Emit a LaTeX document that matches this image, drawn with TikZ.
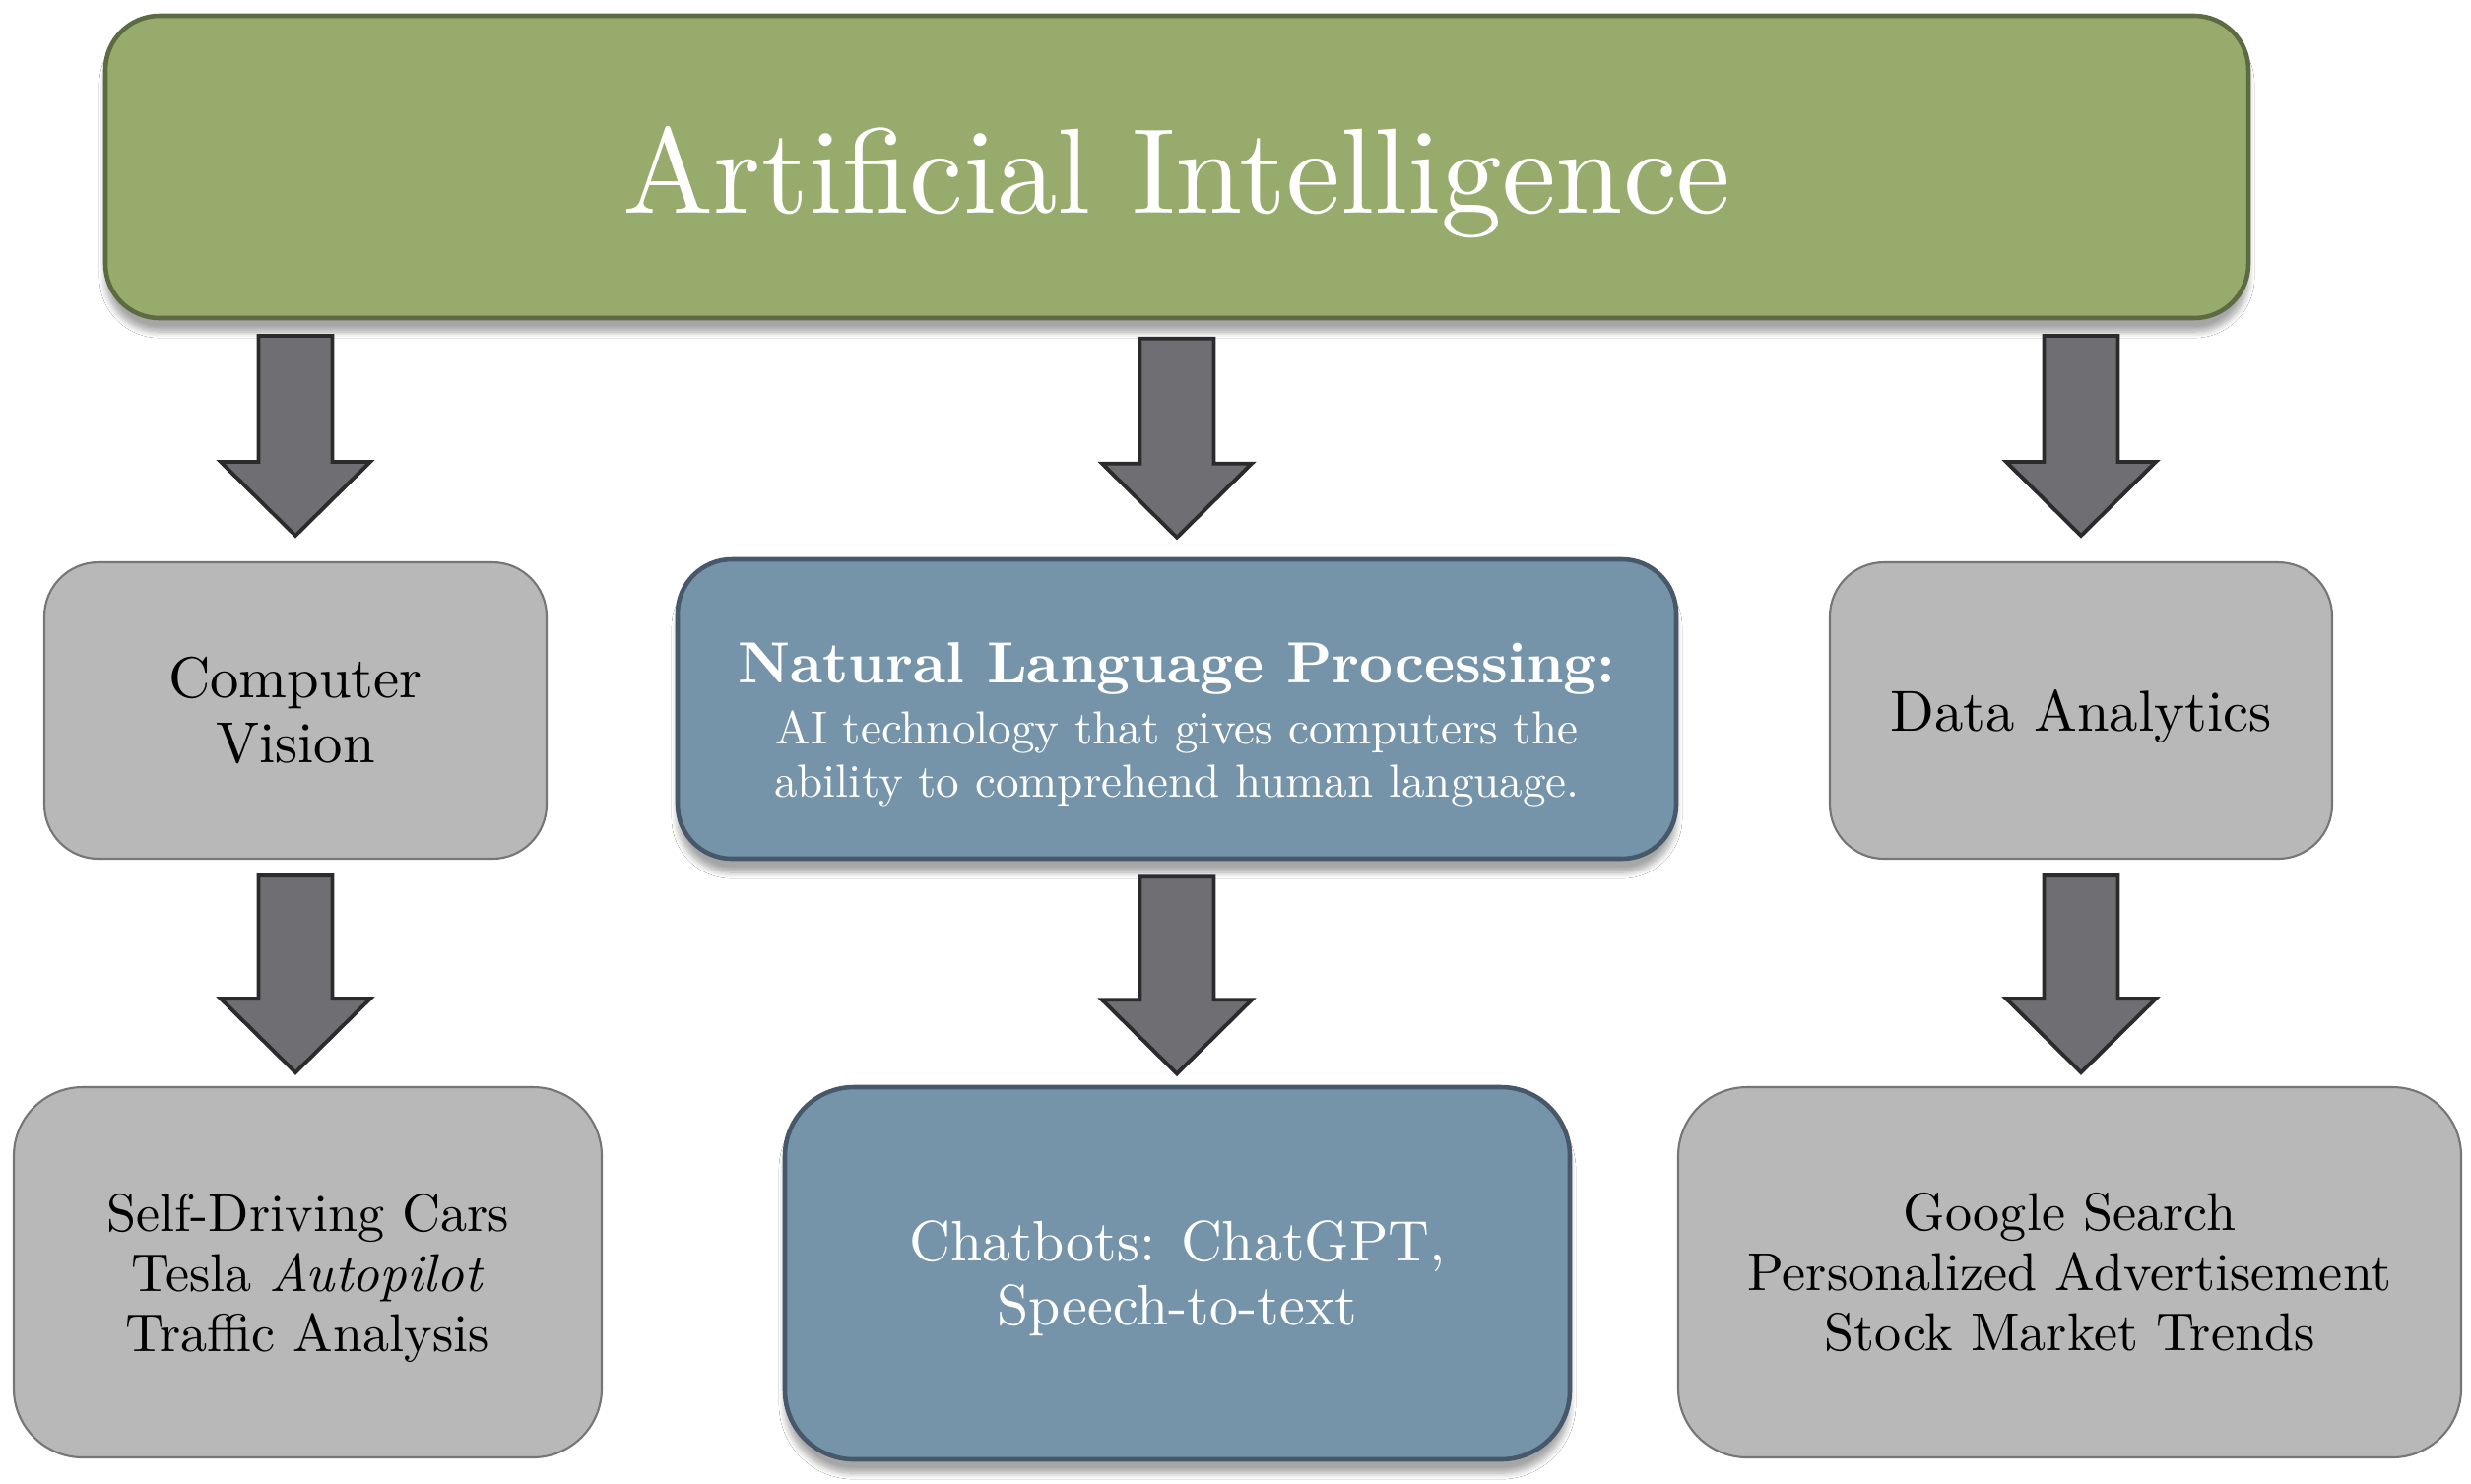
\documentclass[tikz,border=0pt]{standalone}
\usepackage{fontspec}
\setmainfont{lmroman10}[Extension=.otf,UprightFont=*-regular,BoldFont=*-bold,ItalicFont=*-italic,BoldItalicFont=*-bolditalic]
\usetikzlibrary{calc,shadows.blur}
\definecolor{gfill}{HTML}{97AB6C}
\definecolor{gline}{HTML}{5C6B42}
\definecolor{bfill}{HTML}{7594A9}
\definecolor{bline}{HTML}{465869}
\definecolor{kfill}{HTML}{B8B8B8}
\definecolor{kline}{HTML}{767676}
\definecolor{afill}{HTML}{6F6E73}
\definecolor{aline}{HTML}{2B2B2E}
\tikzset{
  shd/.style={blur shadow={shadow xshift=0pt,shadow yshift=-4pt,shadow blur steps=8,shadow opacity=35,shadow blur extra rounding=2pt}},
  aibox/.style={draw=gline,fill=gfill,line width=1.3pt,rounded corners=0.55cm,inner sep=0pt,shd},
  bluebox/.style={draw=bline,fill=bfill,line width=1.3pt,inner sep=0pt,shd},
  graybox/.style={draw=kline,fill=kfill,line width=0.6pt,inner sep=0pt},
  txt/.style={inner sep=0pt,align=center},
  wtxt/.style={txt,text=white},
  barrow/.style={draw=aline,fill=afill,line width=1.1pt,line join=miter},
  midtxt/.style={font=\fontsize{16.7}{18.7}\selectfont},
  lowtxt/.style={font=\fontsize{15.4}{17.4}\selectfont},
}
\newcommand\blockarrow[2]{%
  \draw[barrow] let \p1=(#1), \p2=(#2) in
    (\x1-0.375cm,\y1) -- (\x1+0.375cm,\y1) -- (\x1+0.375cm,\y2+0.75cm)
    -- (\x1+0.76cm,\y2+0.75cm) -- (\x1,\y2) -- (\x1-0.76cm,\y2+0.75cm)
    -- (\x1-0.375cm,\y2+0.75cm) -- cycle;}
\begin{document}
\begin{tikzpicture}
\useasboundingbox[fill=white] (0,0) rectangle (25.09,-15.06);
% top
\node[aibox,minimum width=21.76cm,minimum height=3.07cm] (ai) at (11.95,-1.695) {};
\node[wtxt,font=\fontsize{35}{40}\selectfont] (aitxt) at ($(ai.center)+(0,-0.16)$) {Artificial Intelligence};
% middle row
\node[graybox,rounded corners=0.55cm,minimum width=5.10cm,minimum height=3.01cm] (cv) at (3.00,-7.215) {};
\node[txt,midtxt] (cvtxt) at (cv.center) {Computer\\Vision};
\node[bluebox,rounded corners=0.55cm,minimum width=10.14cm,minimum height=3.04cm] (nlp) at (11.95,-7.20) {};
\node[wtxt,font=\fontsize{13.4}{15.4}\selectfont] (nlptxt) at ($(nlp.center)+(0,-0.16)$)
  {{\fontsize{16.8}{17.7}\selectfont\bfseries Natural Language Processing:}\\[2.3pt]
   AI technology that gives computers the\\
   ability to comprehend human language.};
\node[graybox,rounded corners=0.55cm,minimum width=5.10cm,minimum height=3.01cm] (da) at (21.13,-7.215) {};
\node[txt,midtxt] (datxt) at ($(da.center)+(0,-0.06)$) {Data Analytics};
% bottom row
\node[graybox,rounded corners=0.7cm,minimum width=5.97cm,minimum height=3.76cm] (sd) at (3.125,-12.92) {};
\node[txt,lowtxt] (sdtxt) at ($(sd.center)+(0,-0.06)$) {Self-Driving Cars\\Tesla \textit{Autopilot}\\Traffic Analysis};
\node[bluebox,rounded corners=0.7cm,minimum width=7.97cm,minimum height=3.78cm] (ch) at (11.955,-12.93) {};
\node[wtxt,font=\fontsize{16.5}{18.5}\selectfont] (chtxt) at ($(ch.center)+(0,-0.05)$) {Chatbots: ChatGPT,\\Speech-to-text};
\node[graybox,rounded corners=0.7cm,minimum width=7.95cm,minimum height=3.76cm] (gs) at (21.015,-12.92) {};
\node[txt,lowtxt] (gstxt) at (gs.center) {Google Search\\Personalized Advertisement\\Stock Market Trends};
% arrow anchor coordinates
\coordinate (a1s) at ($(cv.north)+(0,2.29)$);
\coordinate (a1e) at ($(cv.north)+(0,0.26)$);
\coordinate (a2s) at ($(nlp.north)+(0,2.22)$);
\coordinate (a2e) at ($(nlp.north)+(0,0.20)$);
\coordinate (a3s) at ($(da.north)+(0,2.29)$);
\coordinate (a3e) at ($(da.north)+(0,0.26)$);
\coordinate (b1s) at ($(cv.south)+(0,-0.16)$);
\coordinate (b1e) at ($(cv.south)+(0,-2.16)$);
\coordinate (b2s) at ($(nlp.south)+(0,-0.16)$);
\coordinate (b2e) at ($(nlp.south)+(0,-2.16)$);
\coordinate (b3s) at ($(da.south)+(0,-0.16)$);
\coordinate (b3e) at ($(da.south)+(0,-2.16)$);
\blockarrow{a1s}{a1e}
\blockarrow{a2s}{a2e}
\blockarrow{a3s}{a3e}
\blockarrow{b1s}{b1e}
\blockarrow{b2s}{b2e}
\blockarrow{b3s}{b3e}
\end{tikzpicture}
\end{document}
